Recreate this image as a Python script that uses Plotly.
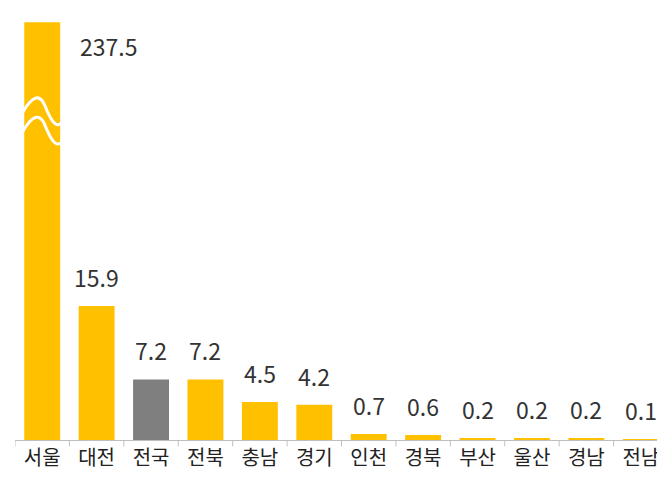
import plotly.graph_objects as go

regions = ["서울", "대전", "전국", "전북", "충남", "경기", "인천", "경북", "부산", "울산", "경남", "전남"]
values = [237.5, 15.9, 7.2, 7.2, 4.5, 4.2, 0.7, 0.6, 0.2, 0.2, 0.2, 0.1]
# Seoul bar is drawn with a broken axis, capped at this height
axis_cap = 49.6

shown = [min(v, axis_cap) for v in values]
colors = ["#7f7f7f" if r == "전국" else "#ffc000" for r in regions]

fig = go.Figure(go.Bar(x=list(range(len(regions))), y=shown, marker_color=colors,
                       marker_line_width=0, width=0.66))

for i, (v, s) in enumerate(zip(values, shown)):
    if v > axis_cap:
        fig.add_annotation(x=i, y=46.8, text=f"{v}", showarrow=False, xshift=66,
                           font=dict(size=23, color="#333"))
    else:
        fig.add_annotation(x=i, y=s, text=f"{v}", showarrow=False, yanchor="bottom", yshift=10,
                           font=dict(size=23, color="#333"))

# break marks on Seoul bar
for y0 in (39.5, 37.2):
    fig.add_shape(type="path", xref="x", yref="y",
                  path=f"M -0.36 {y0-0.6} C -0.2 {y0+1.2}, -0.05 {y0+1.8}, 0.05 {y0+0.2} "
                       f"S 0.25 {y0-2.6}, 0.36 {y0-1.8}",
                  line=dict(color="white", width=3))

fig.update_layout(
    width=665, height=490,
    margin=dict(l=7, r=5, t=11, b=58),
    plot_bgcolor="white", paper_bgcolor="white",
    showlegend=False,
    font=dict(family="Noto Sans CJK KR", color="#333"),
    xaxis=dict(tickmode="array", tickvals=list(range(len(regions))), ticktext=regions,
               range=[-0.5, len(regions) - 0.5], showline=True, linecolor="#bfbfbf",
               tickfont=dict(size=20, color="#222"), ticks="", showgrid=False),
    yaxis=dict(range=[0, 50], visible=False),
)

for k in range(len(regions) + 1):
    fig.add_shape(type="line", xref="x", yref="paper", x0=k - 0.5, x1=k - 0.5,
                  y0=0, y1=-0.015, line=dict(color="#bfbfbf", width=1))

fig.write_html("out.html")
